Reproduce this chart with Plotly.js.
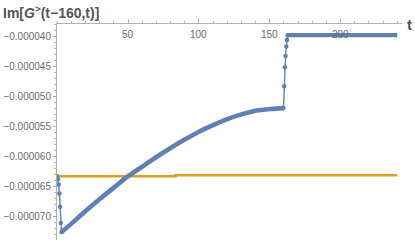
<!DOCTYPE html>
<html><head><meta charset="utf-8">
<script src="https://cdn.plot.ly/plotly-3.0.1.min.js"></script>
<style>body{margin:0;background:#fff}#c{width:415px;height:244px}</style>
</head><body><div id="c"></div>
<script>
// values in units of 1e-6
const dropT = [0, 0.5, 1, 1.5, 2, 2.5, 3];
const dropV = [-63.3, -63.8, -64.7, -66.2, -68.4, -71.1, -72.6];
const curveT = [3, 10, 20, 30, 40, 50, 60, 70, 80, 90, 100, 110, 120, 130, 140, 150, 160];
const curveV = [-72.6, -71.2, -69.1, -67.1, -65.2, -63.3, -61.7, -60.1, -58.6, -57.2, -55.9, -54.8, -53.8, -53.0, -52.4, -52.1, -51.95];
const jumpT = [159.7, 160.2, 160.7, 161.2, 161.7, 162.2, 162.7];
const jumpV = [-51.95, -48.3, -45.15, -43.25, -41.67, -40.58, -39.8];
const topT = [162.7, 240];
const topV = [-39.8, -39.8];
const orangeT = [0, 83.5, 83.5, 240];
const orangeV = [-63.3, -63.3, -63.15, -63.15];
const xTicks = [50, 100, 150, 200];
const yTicks = [-40, -45, -50, -55, -60, -65, -70];

const s = v => v.map(a => a * 1e-6);
const blue = '#5E81B5', orange = '#E19C24';

const traces = [
  {x: orangeT, y: s(orangeV), mode: 'lines', line: {color: orange, width: 2.6}},
  {x: curveT, y: s(curveV), mode: 'lines', line: {color: blue, width: 4.6, shape: 'spline'}},
  {x: topT, y: s(topV), mode: 'lines', line: {color: blue, width: 4.2}},
  {x: dropT, y: s(dropV), mode: 'lines+markers', line: {color: blue, width: 1.4}, marker: {color: blue, size: 4.5}},
  {x: jumpT, y: s(jumpV), mode: 'lines+markers', line: {color: blue, width: 1.4}, marker: {color: blue, size: 4.5}}
];

const axisCol = '#b0b0b0', tickFont = {family: 'Liberation Sans, Arial, sans-serif', size: 10, color: '#6b6b6b'};
const xLabelAnns = xTicks.map(v => ({
  xref: 'x', yref: 'paper', x: v, y: 1, xanchor: 'center', yanchor: 'middle', yshift: -10,
  text: String(v), showarrow: false, font: tickFont
}));
const layout = {
  width: 415, height: 244,
  margin: {l: 57, r: 13, t: 24, b: 4},
  showlegend: false,
  paper_bgcolor: '#fff', plot_bgcolor: '#fff',
  xaxis: {
    range: [-0.2, 243.4], side: 'top', showgrid: false, zeroline: false,
    showline: true, linecolor: axisCol, linewidth: 1,
    tickmode: 'array', tickvals: xTicks, showticklabels: false,
    ticks: 'outside', ticklen: 4, tickcolor: axisCol,
    minor: {dtick: 10, tick0: 0, ticks: 'outside', ticklen: 2, tickcolor: axisCol, showgrid: false}
  },
  yaxis: {
    range: [-73.93e-6, -37.93e-6], showgrid: false, zeroline: false,
    showline: true, linecolor: axisCol, linewidth: 1,
    tickmode: 'array', tickvals: s(yTicks), ticktext: yTicks.map(v => '\u2212' + (Math.abs(v) / 1e6).toFixed(6)),
    ticks: 'outside', ticklen: 3, tickcolor: axisCol, tickfont: tickFont,
    minor: {dtick: 1e-6, tick0: 0, ticks: 'outside', ticklen: 2, tickcolor: axisCol, showgrid: false}
  },
  annotations: xLabelAnns.concat([
    {xref: 'paper', yref: 'paper', x: 1, y: 1, xanchor: 'left', yanchor: 'middle', xshift: 3, yshift: 0,
     text: 't', showarrow: false, font: {family: 'Liberation Sans, Arial, sans-serif', size: 15, color: '#555', weight: 'bold'}},
    {xref: 'paper', yref: 'paper', x: 0, y: 1, xanchor: 'left', yanchor: 'bottom', xshift: -56, yshift: 1,
     text: 'Im[<i>G</i><sup>&gt;</sup>(t\u2212160,t)]', showarrow: false,
     font: {family: 'Liberation Sans, Arial, sans-serif', size: 14, color: '#555', weight: 'bold'}}
  ])
};
Plotly.newPlot('c', traces, layout, {staticPlot: true, displayModeBar: false});
</script></body></html>
